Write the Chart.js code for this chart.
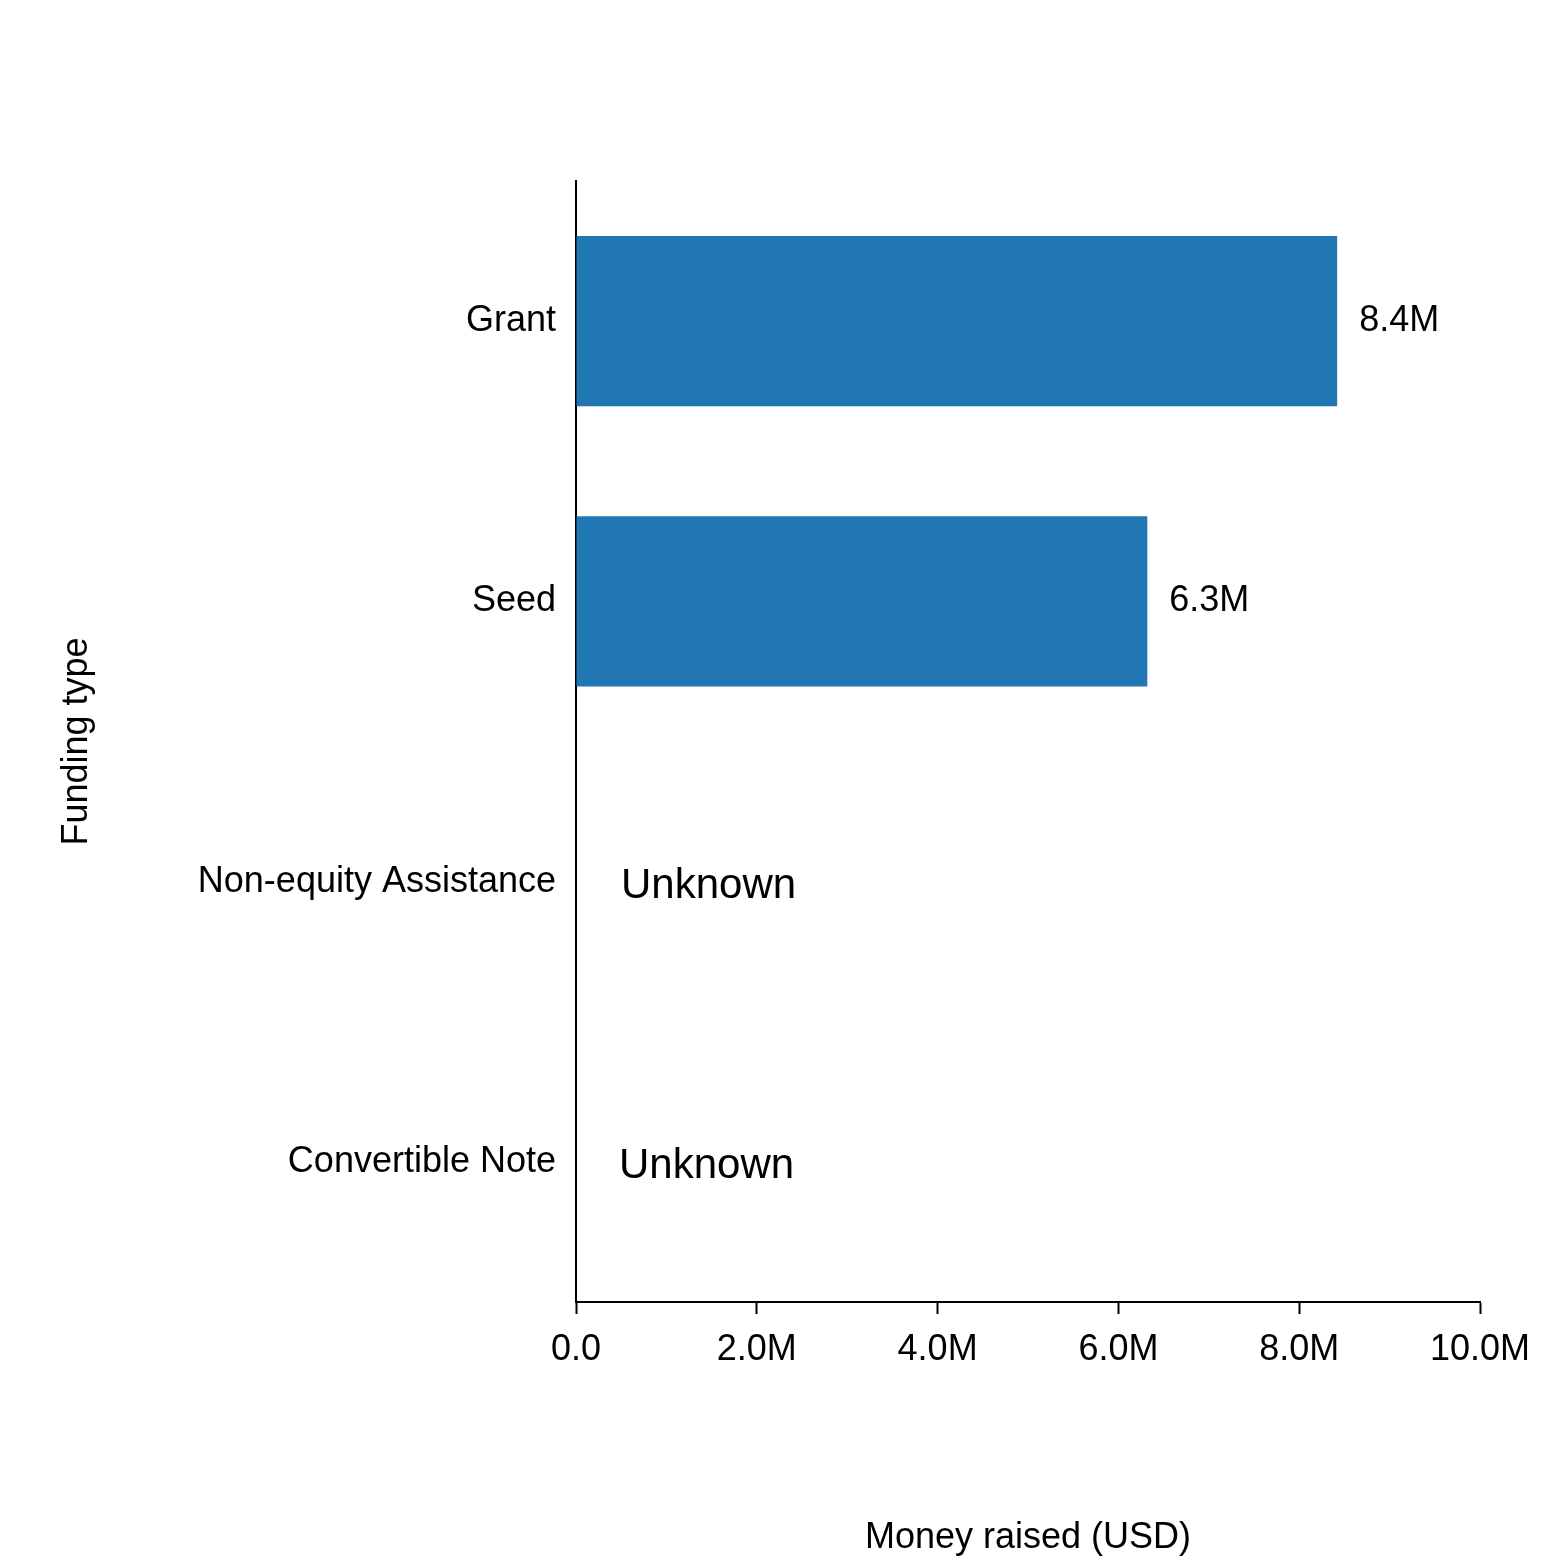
<!DOCTYPE html>
<html>
<head>
<meta charset="utf-8">
<script src="https://cdn.jsdelivr.net/npm/chart.js@4"></script>
<style>
    body { margin: 0; background: #fff; }
</style>
</head>
<body>
<canvas id="barChart" width="1560" height="1564"></canvas>
<script>
var categories = ["Grant", "Seed", "Non-equity Assistance", "Convertible Note"];
var amounts = [8.42e6, 6.32e6, null, null];
var amountLabels = ["8.4M", "6.3M", "Unknown", "Unknown"];
var xTicks = [0, 2e6, 4e6, 6e6, 8e6, 10e6];

function formatMillions(v) {
    return v == 0 ? "0.0" : (v / 1e6).toFixed(1) + "M";
}

// draws the value or "Unknown" next to each bar
const barLabels = {
    id: "barLabels",
    afterDatasetsDraw(chart) {
        const ctx = chart.ctx;
        const meta = chart.getDatasetMeta(0);
        const xScale = chart.scales.x;
        ctx.save();
        ctx.fillStyle = "#000";
        ctx.textBaseline = "middle";
        ctx.textAlign = "left";
        meta.data.forEach((bar, i) => {
            if (amounts[i] == null) {
                ctx.font = "42px 'Liberation Sans', Arial, sans-serif";
                ctx.fillText(amountLabels[i], xScale.getPixelForValue(0) + 45 - i * 2 + 4, bar.y + 5);
            } else {
                ctx.font = "36px 'Liberation Sans', Arial, sans-serif";
                ctx.fillText(amountLabels[i], bar.x + 22, bar.y);
            }
        });
        ctx.restore();
    }
};

new Chart(document.getElementById("barChart"), {
    type: "bar",
    data: {
        labels: categories,
        datasets: [{
            data: amounts,
            backgroundColor: "#2077b4",
            barPercentage: 0.607,
            categoryPercentage: 1
        }]
    },
    options: {
        indexAxis: "y",
        responsive: false,
        animation: false,
        devicePixelRatio: 1,
        layout: { padding: { top: 181, right: 80, left: 55, bottom: 0 } },
        plugins: { legend: { display: false }, tooltip: { enabled: false } },
        scales: {
            x: {
                min: 0,
                max: 10e6,
                afterBuildTicks: (scale) => { scale.ticks = xTicks.map(v => ({ value: v })); },
                afterFit: (scale) => { scale.height = 262; },
                border: { color: "#000", width: 2 },
                grid: { drawOnChartArea: false, tickLength: 12, tickColor: "#000", tickWidth: 2 },
                ticks: {
                    color: "#000",
                    padding: 14,
                    maxRotation: 0,
                    font: { size: 36, family: "'Liberation Sans', Arial, sans-serif" },
                    callback: (v) => formatMillions(v)
                },
                title: {
                    display: true,
                    text: "Money raised (USD)",
                    color: "#000",
                    padding: { top: 42 },
                    font: { size: 36, family: "'Liberation Sans', Arial, sans-serif" }
                }
            },
            y: {
                afterFit: (scale) => { scale.width = 521; },
                border: { color: "#000", width: 2 },
                grid: { display: false, drawTicks: false },
                ticks: {
                    color: "#000",
                    padding: 20,
                    font: { size: 36, family: "'Liberation Sans', Arial, sans-serif" }
                },
                title: {
                    display: true,
                    text: "Funding type",
                    color: "#000",
                    padding: 0,
                    font: { size: 36, family: "'Liberation Sans', Arial, sans-serif" }
                }
            }
        }
    },
    plugins: [barLabels]
});
</script>
</body>
</html>
